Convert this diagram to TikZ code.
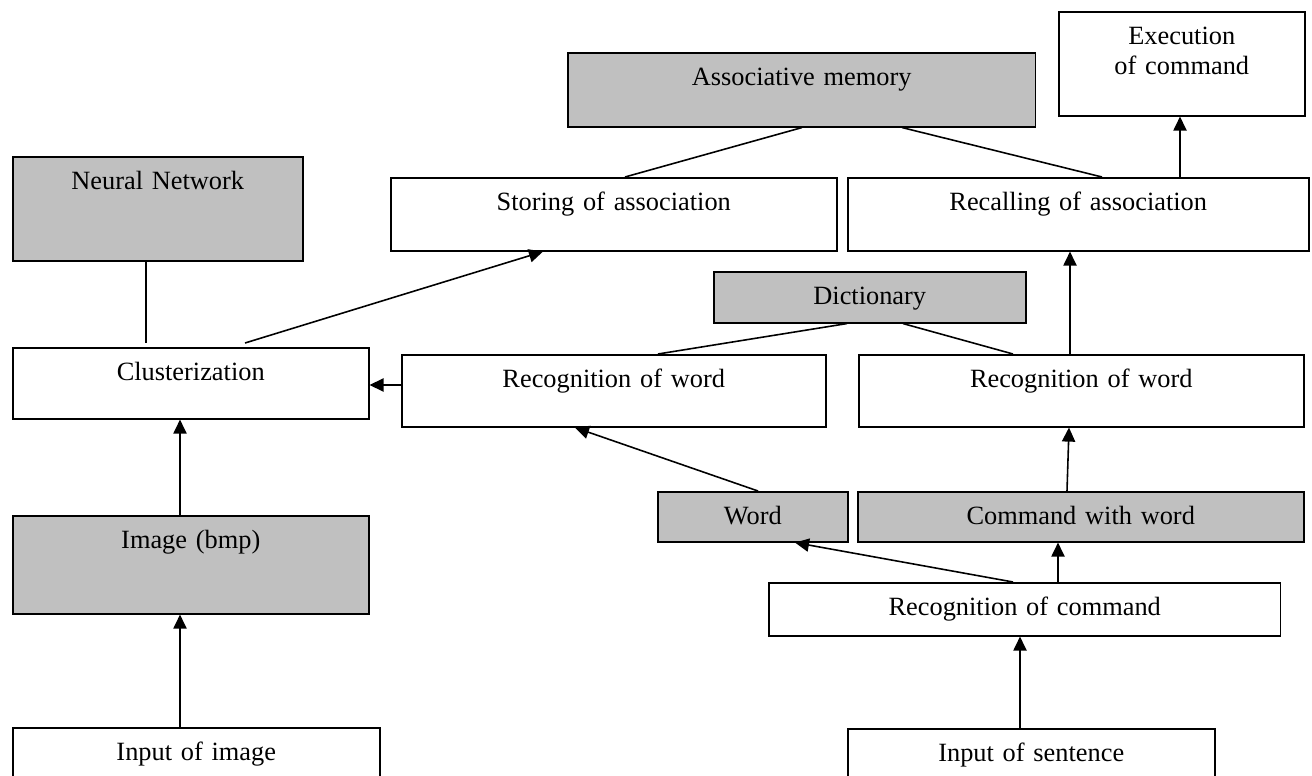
\documentclass[tikz,border=0pt]{standalone}
\usepackage{fontspec}
\setmainfont{Liberation Serif}
\usetikzlibrary{arrows.meta,calc}

\begin{document}
\begin{tikzpicture}[x=0.02cm,y=-0.02cm,font=\fontsize{15}{17}\selectfont]
  \definecolor{boxgray}{RGB}{192,192,192}

  \tikzset{
    blk/.style={draw=black,line width=0.9pt,inner sep=0pt,anchor=north west,align=center,text height=0.66cm},
    graybox/.style={blk,fill=boxgray},
    link/.style={line width=0.9pt},
    flow/.style={-{Triangle[length=8pt,width=7.5pt]},line width=0.9pt}
  }

  \useasboundingbox (0,0) rectangle (1312,776);
  \clip (0,0) rectangle (1312,776);

  % ---------------- Image branch (left) ----------------
  \node[graybox,text width=5.80cm,text depth=1.42cm] (nnet) at (12,156) {Neural Network};
  \node[blk,text width=7.12cm,text depth=0.76cm] (clus) at (12,347) {Clusterization};
  \node[graybox,text width=7.12cm,text depth=1.30cm] (imgBmp) at (12,515) {Image (bmp)};
  \node[blk,text width=7.34cm,text depth=0.54cm] (inImg) at (12,727) {Input of image};

  % ---------------- Association (top) ----------------
  \node[graybox,text width=9.36cm,text depth=0.82cm] (assoc) at (567,52) {Associative memory};
  \node[blk,text width=4.92cm,text depth=1.42cm] (execCmd) at (1058,11) {Execution\\of command};
  \node[blk,text width=8.92cm,text depth=0.80cm] (storeAs) at (390,177) {Storing of association};
  \node[blk,text width=9.22cm,text depth=0.80cm] (recallAs) at (847,177) {Recalling of association};

  % ---------------- Sentence branch (right) ----------------
  \node[graybox,text width=6.24cm,text depth=0.36cm] (dict) at (713,271) {Dictionary};
  \node[blk,text width=8.48cm,text depth=0.78cm] (recWordL) at (401,354) {Recognition of word};
  \node[blk,text width=8.90cm,text depth=0.78cm] (recWordR) at (858,354) {Recognition of word};
  \node[graybox,text width=3.80cm,text depth=0.34cm] (wordG) at (657,491) {Word};
  \node[graybox,text width=8.92cm,text depth=0.34cm] (cmdWord) at (857,491) {Command with word};
  \node[blk,text width=10.24cm,text depth=0.40cm] (recCmd) at (768,582) {Recognition of command};
  \node[blk,text width=7.34cm,text depth=0.54cm] (inSent) at (847,728) {Input of sentence};

  % Plain links to the gray stores
  \draw[link] ($(nnet.south west)+(134,0)$) -- ($(clus.north west)+(134,-4)$);
  \draw[link] ($(assoc.south west)+(235,0)$) -- ($(storeAs.north west)+(235,0)$);
  \draw[link] ($(assoc.south west)+(335,0)$) -- ($(recallAs.north west)+(255,0)$);
  \draw[link] ($(dict.south west)+(134,0)$) -- ($(recWordL.north west)+(257,0)$);
  \draw[link] ($(dict.south west)+(190,0)$) -- ($(recWordR.north west)+(155,0)$);

  % Image flow
  \draw[flow] ($(inImg.north west)+(168,0)$) -- ($(imgBmp.south west)+(168,0)$);
  \draw[flow] ($(imgBmp.north west)+(168,0)$) -- ($(clus.south west)+(168,0)$);
  \draw[flow] ($(clus.north west)+(233,-4)$) -- ($(storeAs.south west)+(153,0)$);
  \draw[flow] ($(recWordL.north west)+(0,31)$) -- ($(clus.north east)+(0,38)$);

  % Sentence flow
  \draw[flow] ($(inSent.north west)+(173,0)$) -- ($(recCmd.south west)+(252,0)$);
  \draw[flow] ($(recCmd.north west)+(245,0)$) -- ($(wordG.south west)+(138,0)$);
  \draw[flow] ($(recCmd.north west)+(290,0)$) -- ($(cmdWord.south west)+(201,0)$);
  \draw[flow] ($(wordG.north west)+(101,0)$) -- ($(recWordL.south west)+(174,0)$);
  \draw[flow] ($(cmdWord.north west)+(210,0)$) -- ($(recWordR.south west)+(211,0)$);
  \draw[flow] ($(recWordR.north west)+(212,0)$) -- ($(recallAs.south west)+(223,0)$);
  \draw[flow] ($(recallAs.north west)+(333,0)$) -- ($(execCmd.south west)+(122,0)$);
\end{tikzpicture}
\end{document}
